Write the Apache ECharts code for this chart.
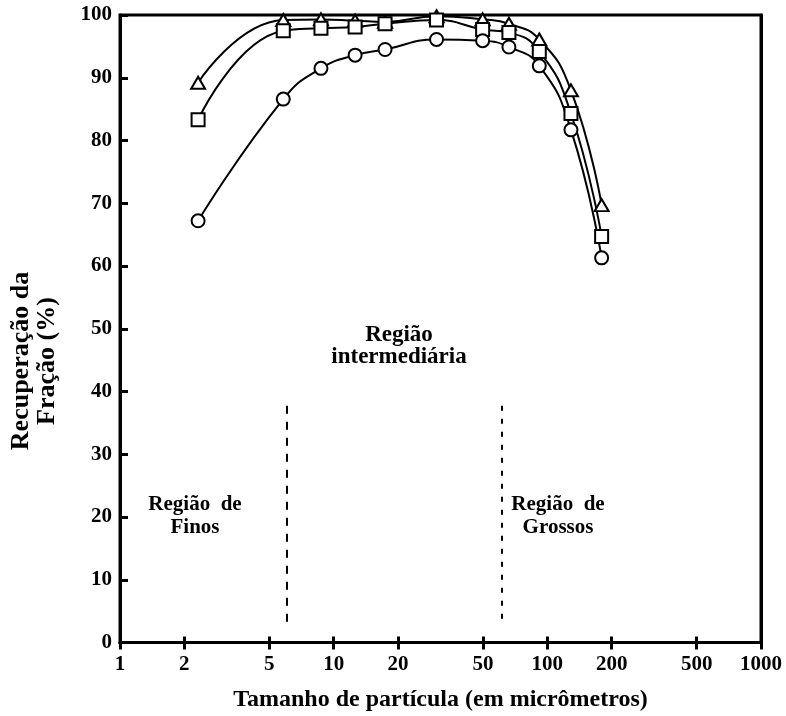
<!DOCTYPE html>
<html>
<head>
<meta charset="utf-8">
<script src="https://cdn.jsdelivr.net/npm/echarts@6/dist/echarts.min.js"></script>
<style>
html,body{margin:0;padding:0;background:#fff;}
#chart{width:786px;height:716px;}
</style>
</head>
<body>
<div id="chart"></div>
<script>
// Particle sizes (micrometres)
const sizes = [2.32, 5.81, 8.72, 12.6, 17.4, 30.3, 49.8, 66.1, 91.7, 129, 179.5];
// Recovery (%) for the three curves
const triangleVals = [89.2, 99.2, 99.3, 99.1, 98.9, 99.8, 99.3, 98.6, 96.1, 88.0, 69.7];
const squareVals   = [83.3, 97.5, 97.9, 98.1, 98.6, 99.2, 97.7, 97.2, 94.2, 84.3, 64.7];
const circleVals   = [67.2, 86.6, 91.5, 93.6, 94.5, 96.1, 95.9, 94.9, 91.9, 81.7, 61.3];
// Axis ticks
const xTicks = [1, 2, 5, 10, 20, 50, 100, 200, 500, 1000];
const yTicks = [0, 10, 20, 30, 40, 50, 60, 70, 80, 90, 100];
// Region boundaries (dashed lines): x, yStart, yEnd
const boundaryFine = [6, 3.3, 38.5];
const boundaryCoarse = [61, 3.8, 38.7];

const FONT = '"Liberation Serif", "DejaVu Serif", serif';

function pairs(xs, ys){ return xs.map((x,i)=>[x, ys[i]]); }

const chart = echarts.init(document.getElementById('chart'), null, {renderer:'canvas'});

const markerStyle = {color:'#fff', borderColor:'#000', borderWidth:2};
const lineStyle = {color:'#000', width:2};

function curve(name, vals, symbol, size, xi){
  return {
    name, type:'line', xAxisIndex:xi, data: pairs(sizes, vals), smooth:0.5,
    symbol, symbolSize:size, showAllSymbol:true, clip:false,
    lineStyle, itemStyle: markerStyle, z:3
  };
}

const tickStyle = {color:'#000', width:3};

const option = {
  backgroundColor:'#fff',
  animation:false,
  grid:{left:120, right:25, top:15, bottom:73.5, containLabel:false, outerBoundsMode:'none',
        show:true, borderColor:'#000', borderWidth:3, backgroundColor:'transparent'},
  xAxis:[{
    type:'log', logBase:10, min:1, max:1000,
    name:'Tamanho de partícula (em micrômetros)',
    nameLocation:'middle', nameGap:45,
    nameTextStyle:{fontFamily:FONT, fontWeight:'bold', fontSize:24, color:'#000'},
    axisLine:{show:true, lineStyle:{color:'#000', width:3}},
    axisTick:{show:true, inside:true, length:6, lineStyle:tickStyle, customValues:xTicks},
    axisLabel:{show:true, margin:12, fontFamily:FONT, fontWeight:'bold', fontSize:21, color:'#000',
               customValues:xTicks, formatter:(v)=>String(v)},
    minorTick:{show:false}, splitLine:{show:false}
  },{
    type:'log', logBase:10, min:1, max:1000, position:'top',
    axisLine:{show:true, lineStyle:{color:'#000', width:3}},
    axisTick:{show:true, inside:true, length:7, lineStyle:tickStyle, customValues:xTicks},
    axisLabel:{show:false}, splitLine:{show:false}
  }],
  yAxis:[{
    type:'value', min:0, max:100, interval:10,
    axisLine:{show:true, lineStyle:{color:'#000', width:3}},
    axisTick:{show:true, inside:true, length:8, lineStyle:tickStyle},
    axisLabel:{margin:8, fontFamily:FONT, fontWeight:'bold', fontSize:21, color:'#000'},
    splitLine:{show:false}
  },{
    type:'value', min:0, max:100, interval:10, position:'right',
    axisLine:{show:true, lineStyle:{color:'#000', width:3}},
    axisTick:{show:false}, axisLabel:{show:false}, splitLine:{show:false}
  }],
  series:[
    curve('triangulo', triangleVals, 'triangle', [14,12], 0),
    curve('quadrado', squareVals, 'rect', 13, 0),
    curve('circulo', circleVals, 'circle', 13, 1),
    {
      type:'line', data:[], silent:true,
      markLine:{
        silent:true, symbol:'none', label:{show:false}, animation:false,
        data:[
          [{coord:[boundaryFine[0], boundaryFine[1]], lineStyle:{type:[8,8], width:2, color:'#000'}},
           {coord:[boundaryFine[0], boundaryFine[2]]}],
          [{coord:[boundaryCoarse[0], boundaryCoarse[1]], lineStyle:{type:[5,8], width:2, color:'#000'}},
           {coord:[boundaryCoarse[0], boundaryCoarse[2]]}]
        ]
      }
    }
  ],
  graphic:[
    {type:'text', x:34, y:361, rotation:Math.PI/2,
     style:{text:'Recuperação da\nFração (%)', fontFamily:FONT, fontWeight:'bold', fontSize:26, lineHeight:26,
            fill:'#000', align:'center', verticalAlign:'middle'}},
    {type:'text', x:195, y:516, style:{text:'Região  de\nFinos', fontFamily:FONT, fontWeight:'bold', fontSize:21, lineHeight:23, fill:'#000', align:'center', verticalAlign:'middle'}},
    {type:'text', x:558, y:516, style:{text:'Região  de\nGrossos', fontFamily:FONT, fontWeight:'bold', fontSize:21, lineHeight:23, fill:'#000', align:'center', verticalAlign:'middle'}},
    {type:'text', x:399, y:346, style:{text:'Região\nintermediária', fontFamily:FONT, fontWeight:'bold', fontSize:23, lineHeight:22, fill:'#000', align:'center', verticalAlign:'middle'}}
  ]
};
chart.setOption(option);
</script>
</body>
</html>
